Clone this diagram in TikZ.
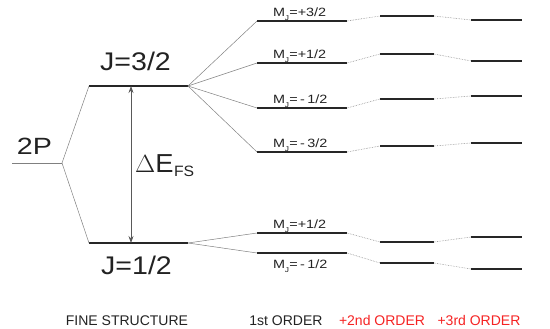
\documentclass[tikz,border=0pt]{standalone}
\usepackage{fontspec}
\setmainfont{Liberation Sans}
\usetikzlibrary{arrows.meta}
\definecolor{txt}{RGB}{34,34,34}
\definecolor{redtxt}{RGB}{245,35,35}
\tikzset{
  lvl/.style={line width=1.7pt, draw=black!85},
  conn/.style={line width=0.5pt, draw=black!50},
  dconn/.style={line width=0.6pt, draw=black!45, densely dotted},
  lab/.style={anchor=base, inner sep=0pt, text=txt},
  mj/.style={lab, anchor=base west, font=\fontsize{12}{12}\selectfont},
  bot/.style={lab, font=\fontsize{14}{14}\selectfont},
  big/.style={lab, font=\fontsize{25.5}{25.5}\selectfont},
}
\newcommand{\MJ}[1]{\scalebox{1.2}[1]{M\kern-0.3pt\raisebox{-0.55ex}{\fontsize{7}{7}\selectfont J}\kern0.3pt=#1}}
\begin{document}
\begin{tikzpicture}[x=1pt,y=-1pt]
\useasboundingbox (0,0) rectangle (550,329);
% fine structure levels
\coordinate (pL) at (12,163); \coordinate (pR) at (62,163);
\coordinate (aL) at (89,86);  \coordinate (aR) at (188,86);
\coordinate (bL) at (89,243); \coordinate (bR) at (188,243);
\draw[conn] (pL) -- (pR);
\draw[lvl] (aL) -- (aR);
\draw[lvl] (bL) -- (bR);
\draw[conn] (pR) -- (aL);
\draw[conn] (pR) -- (bL);
\coordinate (arT) at (131,86); \coordinate (arB) at (131,243);
\draw[line width=0.8pt, draw=black!65, {Stealth[length=7pt,width=5pt]}-{Stealth[length=7pt,width=5pt]}] (arT) -- (arB);
\node[lab, font=\fontsize{23.5}{23.5}\selectfont] (t2p) at (34.5,154) {\scalebox{1.22}[1]{2P}};
\node[big] (tj32) at (135.5,71) {\scalebox{1.12}[1]{J=3/2}};
\node[big] (tj12) at (136.5,274) {\scalebox{1.12}[1]{J=1/2}};
\node[lab, anchor=base west, font=\fontsize{26}{26}\selectfont] (tdE) at (135,173) {\scalebox{1.05}[1]{$\Delta$E\kern0.5pt\raisebox{-4pt}{\fontsize{15}{15}\selectfont FS}}};
% first order levels (J=3/2)
\foreach \n/\y/\yy/\yyy in {1/21/16/20, 2/63/54/61, 3/108/99/96, 4/152/146/143}{
  \coordinate (f\n L) at (257,\y); \coordinate (f\n R) at (347,\y);
  \coordinate (s\n L) at (380,\yy); \coordinate (s\n R) at (434,\yy);
  \coordinate (h\n L) at (471,\yyy); \coordinate (h\n R) at (522,\yyy);
}
% first order levels (J=1/2)
\foreach \n/\y/\yy/\yyy in {5/233/242/237, 6/253/263/269}{
  \coordinate (f\n L) at (257,\y); \coordinate (f\n R) at (347,\y);
  \coordinate (s\n L) at (380,\yy); \coordinate (s\n R) at (434,\yy);
  \coordinate (h\n L) at (471,\yyy); \coordinate (h\n R) at (522,\yyy);
}
\foreach \n in {1,...,6}{
  \draw[lvl] (f\n L) -- (f\n R);
  \draw[lvl] (s\n L) -- (s\n R);
  \draw[lvl] (h\n L) -- (h\n R);
  \draw[dconn] (f\n R) -- (s\n L);
  \draw[dconn] (s\n R) -- (h\n L);
}
\foreach \n in {1,...,4}{\draw[conn] (aR) -- (f\n L);}
\foreach \n in {5,6}{\draw[conn] (bR) -- (f\n L);}
% M_J labels
\node[mj] (m1) at (273,17) {\MJ{+3/2}};
\node[mj] (m2) at (273,59) {\MJ{+1/2}};
\node[mj] (m3) at (273,104) {\MJ{\,-\,1/2}};
\node[mj] (m4) at (273,148) {\MJ{\,-\,3/2}};
\node[mj] (m5) at (273,229) {\MJ{+1/2}};
\node[mj] (m6) at (273,269) {\MJ{\,-\,1/2}};
% bottom labels
\node[bot] (b1) at (127,325) {FINE STRUCTURE};
\node[bot] (b2) at (286,325) {1st ORDER};
\node[bot, text=redtxt] (b3) at (382,325) {+2nd ORDER};
\node[bot, text=redtxt] (b4) at (479,325) {+3rd ORDER};
\end{tikzpicture}
\end{document}
